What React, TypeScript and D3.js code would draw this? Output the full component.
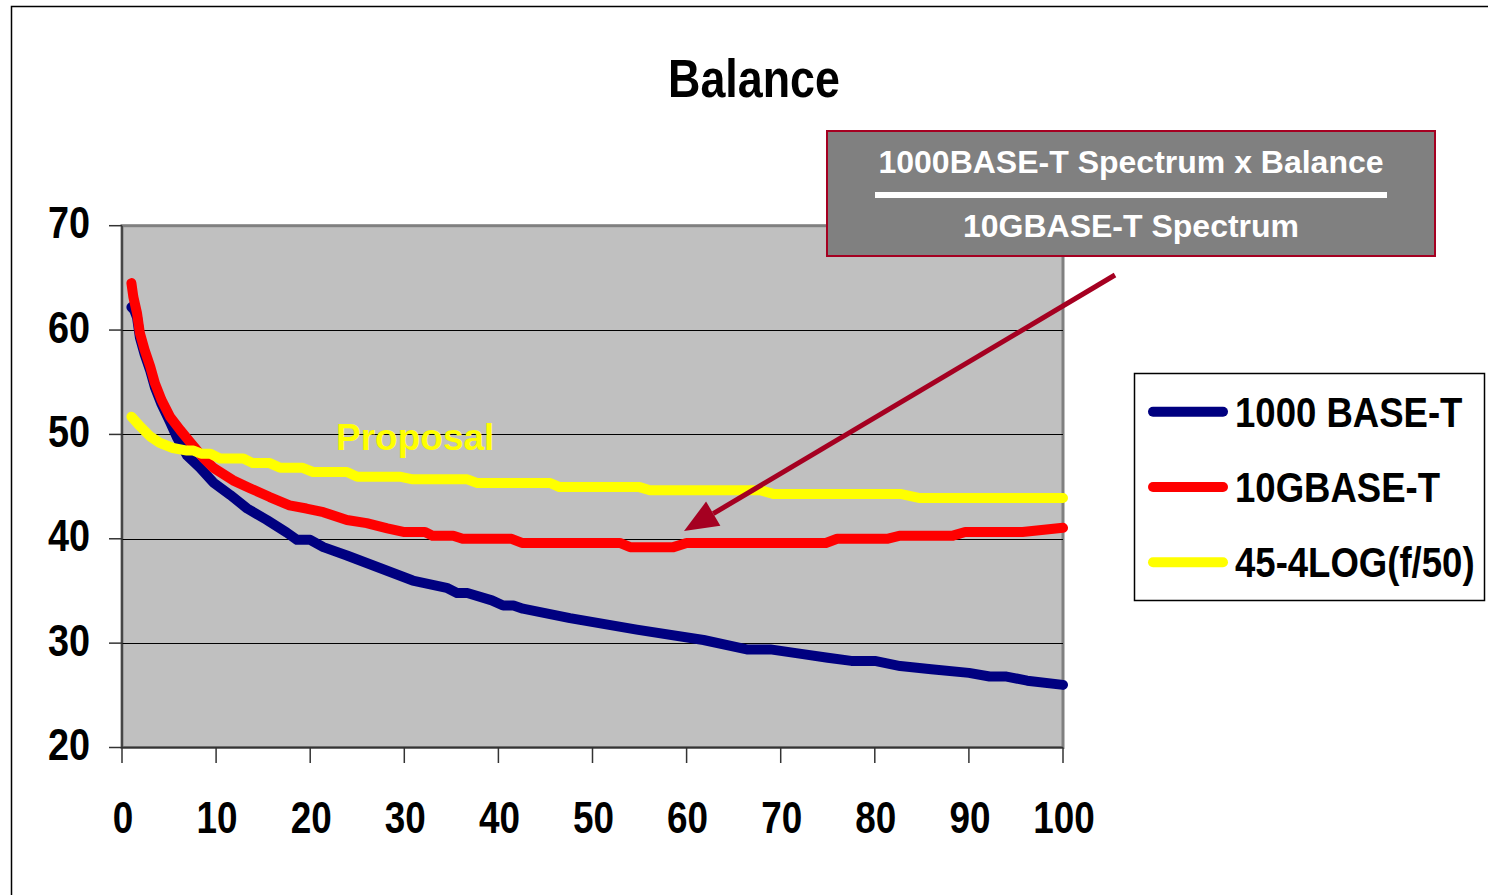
import React from "react";
import * as d3 from "d3";

// Balance curves: [frequency MHz, balance dB]
const base1000: [number, number][] = [
  [1, 62.2], [1.3, 61.9], [1.6, 61.2], [1.9, 59.3], [2.4, 57.7], [3, 56.1],
  [3.5, 54.5], [4.2, 52.9], [5.1, 51.2], [5.8, 49.8], [6.9, 48.0], [8.3, 46.8],
  [9.7, 45.4], [11.5, 44.2], [13.3, 42.9], [15.4, 41.8], [17.5, 40.6],
  [18.6, 39.9], [20, 39.9], [21.4, 39.2], [23.9, 38.4], [27.4, 37.2],
  [30.9, 36.0], [34.5, 35.3], [35.6, 34.8], [36.7, 34.8], [39.3, 34.1],
  [40.5, 33.6], [41.6, 33.6], [42.6, 33.3], [47.6, 32.4], [54.7, 31.3],
  [61.8, 30.3], [66.4, 29.4], [68.9, 29.4], [72, 29.0], [75, 28.6],
  [77.5, 28.3], [80, 28.3], [82.7, 27.8], [86, 27.5], [90, 27.15],
  [92.2, 26.8], [94, 26.8], [96.2, 26.4], [100, 26.0],
];

const base10G: [number, number][] = [
  [1, 64.5], [1.2, 63.2], [1.6, 61.6], [1.9, 59.7], [2.4, 58.1], [3, 56.5],
  [3.5, 54.9], [4.2, 53.3], [5.1, 51.7], [6.2, 50.4], [7.2, 49.3], [8.6, 47.8],
  [9.7, 46.8], [11.8, 45.6], [13.6, 44.85], [15.7, 44.0], [17.8, 43.2],
  [19.6, 42.9], [21.4, 42.55], [23.9, 41.8], [26, 41.5], [28.2, 41.0],
  [29.9, 40.65], [32.2, 40.65], [33, 40.3], [35.2, 40.3], [36.2, 40.0],
  [41.4, 40.0], [42.5, 39.6], [52.9, 39.6], [54, 39.2], [58.6, 39.2],
  [60, 39.6], [74.8, 39.6], [76, 40.0], [81.3, 40.0], [82.7, 40.3],
  [88.3, 40.3], [89.6, 40.65], [95.7, 40.65], [100, 41.05],
];

const proposal: [number, number][] = [
  [1, 51.7], [1.9, 50.8], [3, 49.8], [4, 49.2], [5.4, 48.7], [6.9, 48.45],
  [7.6, 48.45], [8.4, 48.15], [9.4, 48.15], [10.4, 47.7], [12.9, 47.7],
  [13.9, 47.25], [15.7, 47.25], [16.8, 46.8], [19.2, 46.8], [20.3, 46.4],
  [23.9, 46.4], [25, 45.95], [29.5, 45.95], [30.9, 45.7], [36.7, 45.7],
  [37.7, 45.35], [45.5, 45.35], [46.5, 44.95], [55, 44.95], [56.1, 44.65],
  [67.8, 44.65], [69.2, 44.3], [82.7, 44.3], [84.8, 43.9], [100, 43.9],
];

const seriesNames = ["1000 BASE-T", "10GBASE-T", "45-4LOG(f/50)"];
const seriesColors = ["#000080", "#FF0000", "#FFFF00"];
const yTicks = [20, 30, 40, 50, 60, 70];
const xTicks = [0, 10, 20, 30, 40, 50, 60, 70, 80, 90, 100];

const FONT = "'Liberation Sans', Arial, sans-serif";

export default function App() {
  const x = d3.scaleLinear().domain([0, 100]).range([122, 1063]);
  const y = d3.scaleLinear().domain([20, 70]).range([747.5, 225.7]);
  const line = d3
    .line<[number, number]>()
    .x((d) => x(d[0]))
    .y((d) => y(d[1]));

  const series = [base1000, base10G, proposal];
  const [x0, x1] = x.range();
  const [yb, yt] = y.range();

  const arrowColor = "#A50021";
  const tip: [number, number] = [684, 531];
  const tail: [number, number] = [1115, 275];
  const ang = Math.atan2(tail[1] - tip[1], tail[0] - tip[0]);
  const headLen = 34;
  const headHalf = 14;
  const bx = tip[0] + headLen * Math.cos(ang);
  const by = tip[1] + headLen * Math.sin(ang);
  const px = -Math.sin(ang);
  const py = Math.cos(ang);
  const head = `M${tip[0]},${tip[1]} L${bx + headHalf * px},${by + headHalf * py} L${bx - headHalf * px},${by - headHalf * py} Z`;

  return (
    <svg
      width={1488}
      height={895}
      style={{ position: "absolute", left: 0, top: 0, background: "#fff" }}
      fontFamily={FONT}
    >
      {/* chart frame */}
      <rect x={11.5} y={6.5} width={1600} height={1000} fill="#fff" stroke="#000" strokeWidth={1.5} />

      {/* title */}
      <text
        transform={`translate(754,97) scale(0.83,1)`}
        textAnchor="middle"
        fontSize={54}
        fontWeight="bold"
        fill="#000"
      >
        Balance
      </text>

      {/* plot area */}
      <rect x={x0} y={yt} width={x1 - x0} height={yb - yt} fill="#C0C0C0" stroke="#808080" strokeWidth={3} />

      {/* gridlines */}
      {yTicks
        .filter((v) => v !== 20 && v !== 70)
        .map((v) => (
          <line key={v} x1={x0} x2={x1} y1={Math.round(y(v)) + 0.5} y2={Math.round(y(v)) + 0.5} stroke="#000" strokeWidth={1} />
        ))}

      {/* axes */}
      <line x1={x0} x2={x0} y1={yt} y2={yb} stroke="#333" strokeWidth={1.5} />
      <line x1={x0} x2={x1} y1={yb} y2={yb} stroke="#333" strokeWidth={1.5} />
      {yTicks.map((v) => (
        <g key={v}>
          <line x1={109} x2={x0} y1={y(v)} y2={y(v)} stroke="#333" strokeWidth={1.5} />
          <text
            transform={`translate(90,${y(v) + 12.5}) scale(0.86,1)`}
            textAnchor="end"
            fontSize={44}
            fontWeight="bold"
            fill="#000"
          >
            {v}
          </text>
        </g>
      ))}
      {xTicks.map((v) => (
        <g key={v}>
          <line x1={x(v)} x2={x(v)} y1={yb} y2={763} stroke="#333" strokeWidth={1.5} />
          <text
            transform={`translate(${x(v) + 1},833) scale(0.82,1)`}
            textAnchor="middle"
            fontSize={45}
            fontWeight="bold"
            fill="#000"
          >
            {v}
          </text>
        </g>
      ))}

      {/* series */}
      {series.map((s, i) => (
        <path
          key={i}
          d={line(s) || ""}
          fill="none"
          stroke={seriesColors[i]}
          strokeWidth={10}
          strokeLinejoin="round"
          strokeLinecap="round"
        />
      ))}

      {/* proposal label */}
      <text x={336} y={450} fontSize={37} fontWeight="bold" fill="#FFFF00">
        Proposal
      </text>

      {/* annotation box */}
      <rect x={827} y={131} width={608} height={125} fill="#808080" stroke={arrowColor} strokeWidth={2} />
      <text x={1131} y={173} textAnchor="middle" fontSize={32} fontWeight="bold" fill="#fff">
        1000BASE-T Spectrum x Balance
      </text>
      <line x1={875} x2={1387} y1={195} y2={195} stroke="#fff" strokeWidth={6} />
      <text x={1131} y={237} textAnchor="middle" fontSize={32} fontWeight="bold" fill="#fff">
        10GBASE-T Spectrum
      </text>

      {/* arrow */}
      <line x1={tail[0]} y1={tail[1]} x2={bx} y2={by} stroke={arrowColor} strokeWidth={5} />
      <path d={head} fill={arrowColor} />

      {/* legend */}
      <rect x={1134.5} y={373.5} width={350} height={227} fill="#fff" stroke="#000" strokeWidth={1.5} />
      {seriesNames.map((n, i) => {
        const ly = 411.7 + i * 75.3;
        return (
          <g key={n}>
            <line x1={1153} x2={1223} y1={ly} y2={ly} stroke={seriesColors[i]} strokeWidth={10} strokeLinecap="round" />
            <text
              transform={`translate(1235,${ly + 15}) scale(0.87,1)`}
              fontSize={42}
              fontWeight="bold"
              fill="#000"
            >
              {n}
            </text>
          </g>
        );
      })}
    </svg>
  );
}
